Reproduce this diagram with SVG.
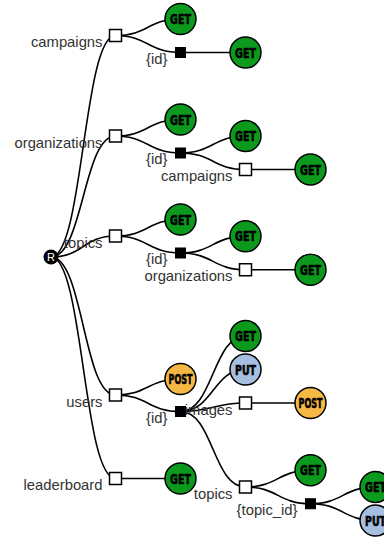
<svg xmlns="http://www.w3.org/2000/svg" width="384" height="537" viewBox="0 0 384 537">
<style>
.link{fill:none;stroke:#000;stroke-width:1.6}
.seg{fill:#fff;stroke:#000;stroke-width:1.5}
.param{fill:#000;stroke:#000;stroke-width:1}
.m{stroke:#000;stroke-width:1.5}
.get{fill:#0c9a1e}
.post{fill:#f5b845}
.put{fill:#a6bedf}
.lbl{font-family:"Liberation Sans",Arial,sans-serif;font-size:14.8px;fill:#333;text-anchor:end}
.mt{font-family:"DejaVu Sans Condensed","DejaVu Sans",sans-serif;font-weight:bold;font-stretch:condensed;font-size:14.5px;fill:#000;stroke:#000;stroke-width:0.6;text-anchor:middle}
</style>
<rect width="384" height="537" fill="#fff"/>
<g id="links">
<path class="link" d="M51,257C83.25,257 83.25,35.5 115.5,35.5"/>
<path class="link" d="M51,257C83.25,257 83.25,136 115.5,136"/>
<path class="link" d="M51,257C83.25,257 83.25,236 115.5,236"/>
<path class="link" d="M51,257C83.25,257 83.25,395 115.5,395"/>
<path class="link" d="M51,257C83.25,257 83.25,478.5 115.5,478.5"/>
<path class="link" d="M115.5,35.5C148,35.5 148,19 180.5,19"/>
<path class="link" d="M115.5,35.5C148,35.5 148,52.5 180.5,52.5"/>
<path class="link" d="M115.5,136C148,136 148,119.5 180.5,119.5"/>
<path class="link" d="M115.5,136C148,136 148,153 180.5,153"/>
<path class="link" d="M115.5,236C148,236 148,219.5 180.5,219.5"/>
<path class="link" d="M115.5,236C148,236 148,253 180.5,253"/>
<path class="link" d="M115.5,395C148,395 148,379 180.5,379"/>
<path class="link" d="M115.5,395C148,395 148,411.5 180.5,411.5"/>
<path class="link" d="M115.5,478.5L180.5,478.5"/>
<path class="link" d="M180.5,52.5L245.5,52.5"/>
<path class="link" d="M180.5,153C213,153 213,136 245.5,136"/>
<path class="link" d="M180.5,153C213,153 213,169.5 245.5,169.5"/>
<path class="link" d="M180.5,253C213,253 213,236.25 245.5,236.25"/>
<path class="link" d="M180.5,253C213,253 213,269.75 245.5,269.75"/>
<path class="link" d="M180.5,411.5C213,411.5 213,336 245.5,336"/>
<path class="link" d="M180.5,411.5C213,411.5 213,369.5 245.5,369.5"/>
<path class="link" d="M180.5,411.5C213,411.5 213,403 245.5,403"/>
<path class="link" d="M180.5,411.5C213,411.5 213,487 245.5,487"/>
<path class="link" d="M245.5,169.5L310.5,169.5"/>
<path class="link" d="M245.5,269.75L310.5,269.75"/>
<path class="link" d="M245.5,403L310.5,403"/>
<path class="link" d="M245.5,487C278,487 278,470.25 310.5,470.25"/>
<path class="link" d="M245.5,487C278,487 278,503.75 310.5,503.75"/>
<path class="link" d="M310.5,503.75C343,503.75 343,487 375.5,487"/>
<path class="link" d="M310.5,503.75C343,503.75 343,520.5 375.5,520.5"/>
</g>
<g id="root"><circle cx="51" cy="257" r="7.5" fill="#000"/><text x="51" y="261" font-family="Liberation Sans,Arial,sans-serif" font-size="11" fill="#fff" text-anchor="middle">R</text></g>

<g id="campaigns"><rect class="seg" x="109.5" y="29.5" width="12" height="12"/><text class="lbl" x="102.5" y="47">campaigns</text></g>
<g id="campaigns-get"><circle class="m get" cx="180.5" cy="19" r="15.5"/><text class="mt" x="180.5" y="24.2" textLength="21" lengthAdjust="spacingAndGlyphs">GET</text></g>
<g id="campaigns-id"><rect class="param" x="175.5" y="47.5" width="10" height="10"/><text class="lbl" x="167.5" y="63.5">{id}</text></g>
<g id="campaigns-id-get"><circle class="m get" cx="245.5" cy="52.5" r="15.5"/><text class="mt" x="245.5" y="57.7" textLength="21" lengthAdjust="spacingAndGlyphs">GET</text></g>

<g id="organizations"><rect class="seg" x="109.5" y="130" width="12" height="12"/><text class="lbl" x="102.5" y="147.5">organizations</text></g>
<g id="organizations-get"><circle class="m get" cx="180.5" cy="119.5" r="15.5"/><text class="mt" x="180.5" y="124.7" textLength="21" lengthAdjust="spacingAndGlyphs">GET</text></g>
<g id="organizations-id"><rect class="param" x="175.5" y="148" width="10" height="10"/><text class="lbl" x="167.5" y="164">{id}</text></g>
<g id="organizations-id-get"><circle class="m get" cx="245.5" cy="136" r="15.5"/><text class="mt" x="245.5" y="141.2" textLength="21" lengthAdjust="spacingAndGlyphs">GET</text></g>
<g id="organizations-id-campaigns"><rect class="seg" x="239.5" y="163.5" width="12" height="12"/><text class="lbl" x="232.5" y="181">campaigns</text></g>
<g id="organizations-id-campaigns-get"><circle class="m get" cx="310.5" cy="169.5" r="15.5"/><text class="mt" x="310.5" y="174.7" textLength="21" lengthAdjust="spacingAndGlyphs">GET</text></g>

<g id="topics"><rect class="seg" x="109.5" y="230" width="12" height="12"/><text class="lbl" x="102.5" y="247.5">topics</text></g>
<g id="topics-get"><circle class="m get" cx="180.5" cy="219.5" r="15.5"/><text class="mt" x="180.5" y="224.7" textLength="21" lengthAdjust="spacingAndGlyphs">GET</text></g>
<g id="topics-id"><rect class="param" x="175.5" y="248" width="10" height="10"/><text class="lbl" x="167.5" y="264">{id}</text></g>
<g id="topics-id-get"><circle class="m get" cx="245.5" cy="236.25" r="15.5"/><text class="mt" x="245.5" y="241.45" textLength="21" lengthAdjust="spacingAndGlyphs">GET</text></g>
<g id="topics-id-organizations"><rect class="seg" x="239.5" y="263.75" width="12" height="12"/><text class="lbl" x="232.5" y="281.25">organizations</text></g>
<g id="topics-id-organizations-get"><circle class="m get" cx="310.5" cy="269.75" r="15.5"/><text class="mt" x="310.5" y="274.95" textLength="21" lengthAdjust="spacingAndGlyphs">GET</text></g>

<g id="users"><rect class="seg" x="109.5" y="389" width="12" height="12"/><text class="lbl" x="102.5" y="406.5">users</text></g>
<g id="users-post"><circle class="m post" cx="180.5" cy="379" r="15.5"/><text class="mt" x="180.5" y="383.8" font-size="13" textLength="24" lengthAdjust="spacingAndGlyphs">POST</text></g>
<g id="users-id"><rect class="param" x="175.5" y="406.5" width="10" height="10"/><text class="lbl" x="167.5" y="422.5">{id}</text></g>
<g id="users-id-get"><circle class="m get" cx="245.5" cy="336" r="15.5"/><text class="mt" x="245.5" y="341.2" textLength="21" lengthAdjust="spacingAndGlyphs">GET</text></g>
<g id="users-id-put"><circle class="m put" cx="245.5" cy="369.5" r="15.5"/><text class="mt" x="245.5" y="374.7" textLength="21" lengthAdjust="spacingAndGlyphs">PUT</text></g>
<g id="users-id-images"><rect class="seg" x="239.5" y="397" width="12" height="12"/><text class="lbl" x="232.5" y="414.5">images</text></g>
<g id="users-id-images-post"><circle class="m post" cx="310.5" cy="403" r="15.5"/><text class="mt" x="310.5" y="407.8" font-size="13" textLength="24" lengthAdjust="spacingAndGlyphs">POST</text></g>
<g id="users-id-topics"><rect class="seg" x="239.5" y="481" width="12" height="12"/><text class="lbl" x="232.5" y="498.5">topics</text></g>
<g id="users-id-topics-get"><circle class="m get" cx="310.5" cy="470.25" r="15.5"/><text class="mt" x="310.5" y="475.45" textLength="21" lengthAdjust="spacingAndGlyphs">GET</text></g>
<g id="users-id-topics-topic_id"><rect class="param" x="305.5" y="498.75" width="10" height="10"/><text class="lbl" x="297.5" y="514.5">{topic_id}</text></g>
<g id="users-id-topics-topic_id-get"><circle class="m get" cx="375.5" cy="487" r="15.5"/><text class="mt" x="375.5" y="492.2" textLength="21" lengthAdjust="spacingAndGlyphs">GET</text></g>
<g id="users-id-topics-topic_id-put"><circle class="m put" cx="375.5" cy="520.5" r="15.5"/><text class="mt" x="375.5" y="525.7" textLength="21" lengthAdjust="spacingAndGlyphs">PUT</text></g>

<g id="leaderboard"><rect class="seg" x="109.5" y="472.5" width="12" height="12"/><text class="lbl" x="102.5" y="490">leaderboard</text></g>
<g id="leaderboard-get"><circle class="m get" cx="180.5" cy="478.5" r="15.5"/><text class="mt" x="180.5" y="483.7" textLength="21" lengthAdjust="spacingAndGlyphs">GET</text></g>
</svg>
